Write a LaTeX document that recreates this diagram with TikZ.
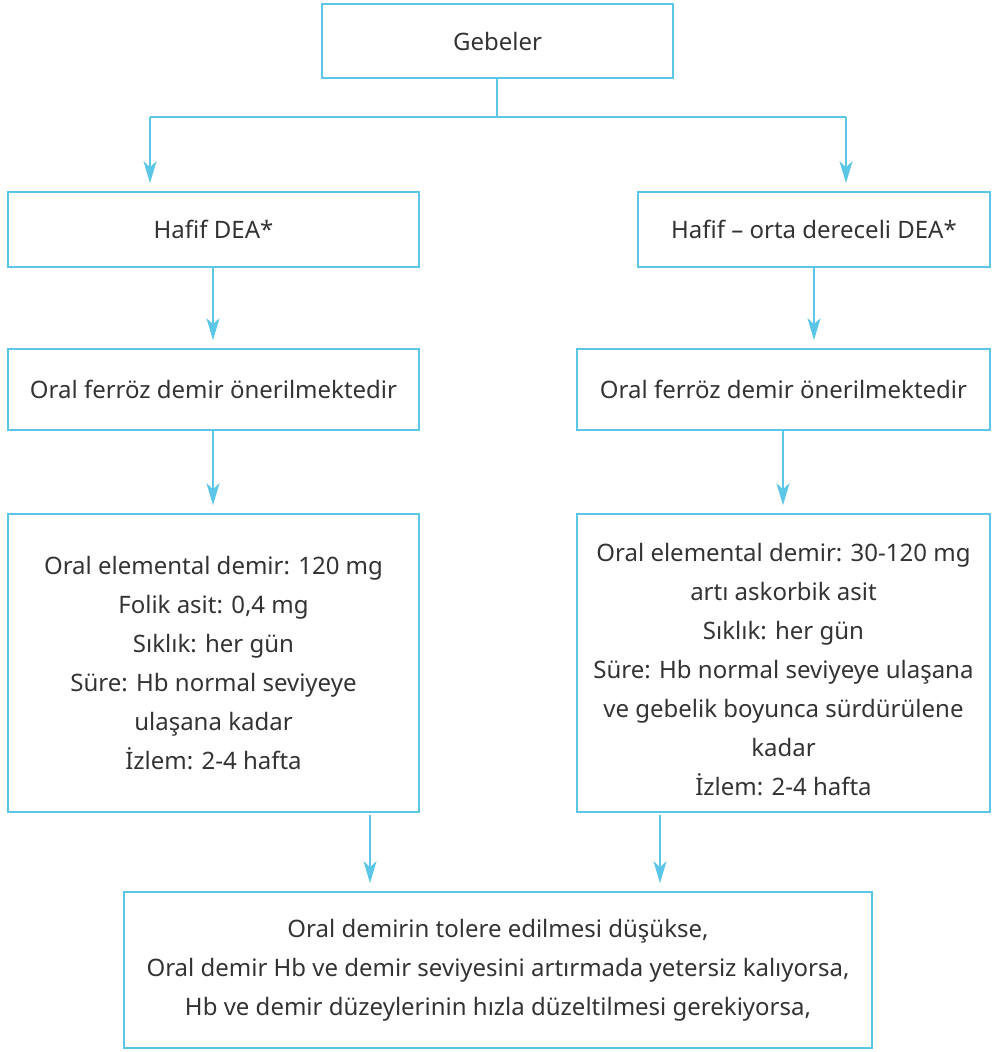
\documentclass[tikz,border=0pt]{standalone}
\usepackage{fontspec}
\setmainfont{Noto Sans}
\usetikzlibrary{arrows.meta}
\definecolor{lineblue}{HTML}{5BC6E6}
\definecolor{txt}{HTML}{333333}
\tikzset{
  box/.style={draw=lineblue, line width=1.6pt, inner sep=0pt, text=txt, align=center,
    font=\fontsize{24}{39}\selectfont},
  boxtext/.style={inner sep=0pt, text=txt, align=center, font=\fontsize{24}{39}\selectfont},
  conn/.style={draw=lineblue, line width=2pt},
  arr/.style={conn, -{Stealth[length=22pt,width=13pt,inset=6pt]}, shorten >=8pt}
}
\begin{document}
\begin{tikzpicture}[x=1pt,y=-1pt]
\useasboundingbox (0,0) rectangle (992,1052);
\node[box, minimum width=351pt, minimum height=74pt] (geb) at (497.5,41) {Gebeler};
\node[box, minimum width=411pt, minimum height=75pt] (hl) at (213.5,229.5) {Hafif DEA*};
\node[box, minimum width=352pt, minimum height=75pt] (hr) at (814,229.5) {Hafif – orta dereceli DEA*};
\node[box, minimum width=411pt, minimum height=81pt] (ol) at (213.5,389.5) {Oral ferröz demir önerilmektedir};
\node[box, minimum width=413pt, minimum height=81pt] (or) at (783.5,389.5) {Oral ferröz demir önerilmektedir};
\node[box, minimum width=411pt, minimum height=298pt] (bl) at (213.5,663) {Oral elemental demir: 120 mg\\Folik asit: 0,4 mg\\Sıklık: her gün\\Süre: Hb normal seviyeye\\ulaşana kadar\\İzlem: 2-4 hafta};
\node[box, minimum width=413pt, minimum height=298pt] (br) at (783.5,663) {};
\node[boxtext] (brt) at ([yshift=-7pt]br.center) {Oral elemental demir: 30-120 mg\\artı askorbik asit\\Sıklık: her gün\\Süre: Hb normal seviyeye ulaşana\\ve gebelik boyunca sürdürülene\\kadar\\İzlem: 2-4 hafta};
\node[box, minimum width=748pt, minimum height=156pt] (bot) at (498,970) {Oral demirin tolere edilmesi düşükse,\\Oral demir Hb ve demir seviyesini artırmada yetersiz kalıyorsa,\\Hb ve demir düzeylerinin hızla düzeltilmesi gerekiyorsa,};
\coordinate (split) at (497,117);
\coordinate (sl) at (150,117);
\coordinate (sr) at (846,117);
\coordinate (xl) at (213,0);
\coordinate (xr) at (783,0);
\draw[conn] (split |- geb.south) -- (split);
\draw[conn] (sl) -- (sr);
\draw[arr] (sl) -- (sl |- hl.north);
\draw[arr] (sr) -- (sr |- hr.north);
\draw[arr] (xl |- hl.south) -- (xl |- ol.north);
\draw[arr] (hr.south) -- (hr.south |- or.north);
\draw[arr] (xl |- ol.south) -- (xl |- bl.north);
\draw[arr] (xr |- or.south) -- (xr |- br.north);
\draw[arr, shorten <=3pt] (370,812) coordinate (a1) -- (a1 |- bot.north);
\draw[arr, shorten <=3pt] (660,812) coordinate (a2) -- (a2 |- bot.north);
\end{tikzpicture}
\end{document}
